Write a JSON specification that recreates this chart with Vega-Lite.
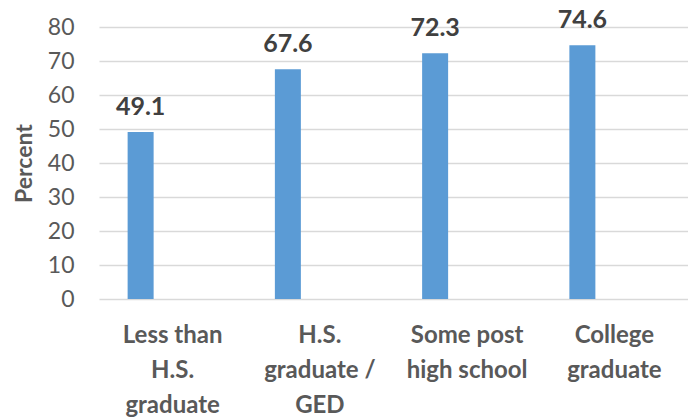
{
  "$schema": "https://vega.github.io/schema/vega-lite/v6.json",
  "width": 589,
  "height": 272,
  "autosize": "none",
  "padding": {"left": 99, "top": 27, "right": 0, "bottom": 118},
  "background": "white",
  "config": {"view": {"stroke": null}, "font": "Lato"},
  "data": {
    "values": [
      {"education": "Less than H.S. graduate", "percent": 49.1},
      {"education": "H.S. graduate / GED", "percent": 67.6},
      {"education": "Some post high school", "percent": 72.3},
      {"education": "College graduate", "percent": 74.6}
    ]
  },
  "encoding": {
    "x": {
      "field": "education",
      "type": "nominal",
      "sort": null,
      "scale": {"paddingInner": 0, "paddingOuter": 0},
      "axis": {
        "title": null,
        "labelAngle": 0,
        "domain": false,
        "ticks": false,
        "labelFont": "Lato",
        "labelFontWeight": "bold",
        "labelFontSize": 24,
        "labelColor": "#595959",
        "labelLineHeight": 35,
        "labelPadding": 24,
        "labelBaseline": "top",
        "labelExpr": "datum.value == 'Less than H.S. graduate' ? ['Less than','H.S.','graduate'] : datum.value == 'H.S. graduate / GED' ? ['H.S.','graduate /','GED'] : datum.value == 'Some post high school' ? ['Some post','high school'] : ['College','graduate']"
      }
    },
    "y": {
      "field": "percent",
      "type": "quantitative",
      "scale": {"domain": [0, 80], "nice": false},
      "axis": {
        "title": "Percent",
        "titleFont": "Lato",
        "titleFontSize": 23,
        "titleFontWeight": "bold",
        "titleColor": "#595959",
        "titlePadding": 11,
        "values": [0, 10, 20, 30, 40, 50, 60, 70, 80],
        "labelFont": "Lato",
        "labelFontSize": 23,
        "labelColor": "#595959",
        "labelPadding": 25,
        "domain": false,
        "ticks": false,
        "gridColor": "#D9D9D9",
        "gridWidth": 1.5
      }
    }
  },
  "layer": [
    {"mark": {"type": "bar", "color": "#5B9BD5", "width": 26, "xOffset": -32}},
    {
      "mark": {"type": "text", "xOffset": -32, "dy": -17, "baseline": "alphabetic", "font": "Lato", "fontWeight": "bold", "fontSize": 25, "color": "#404040"},
      "encoding": {"text": {"field": "percent", "type": "quantitative", "format": ".1f"}}
    }
  ]
}
